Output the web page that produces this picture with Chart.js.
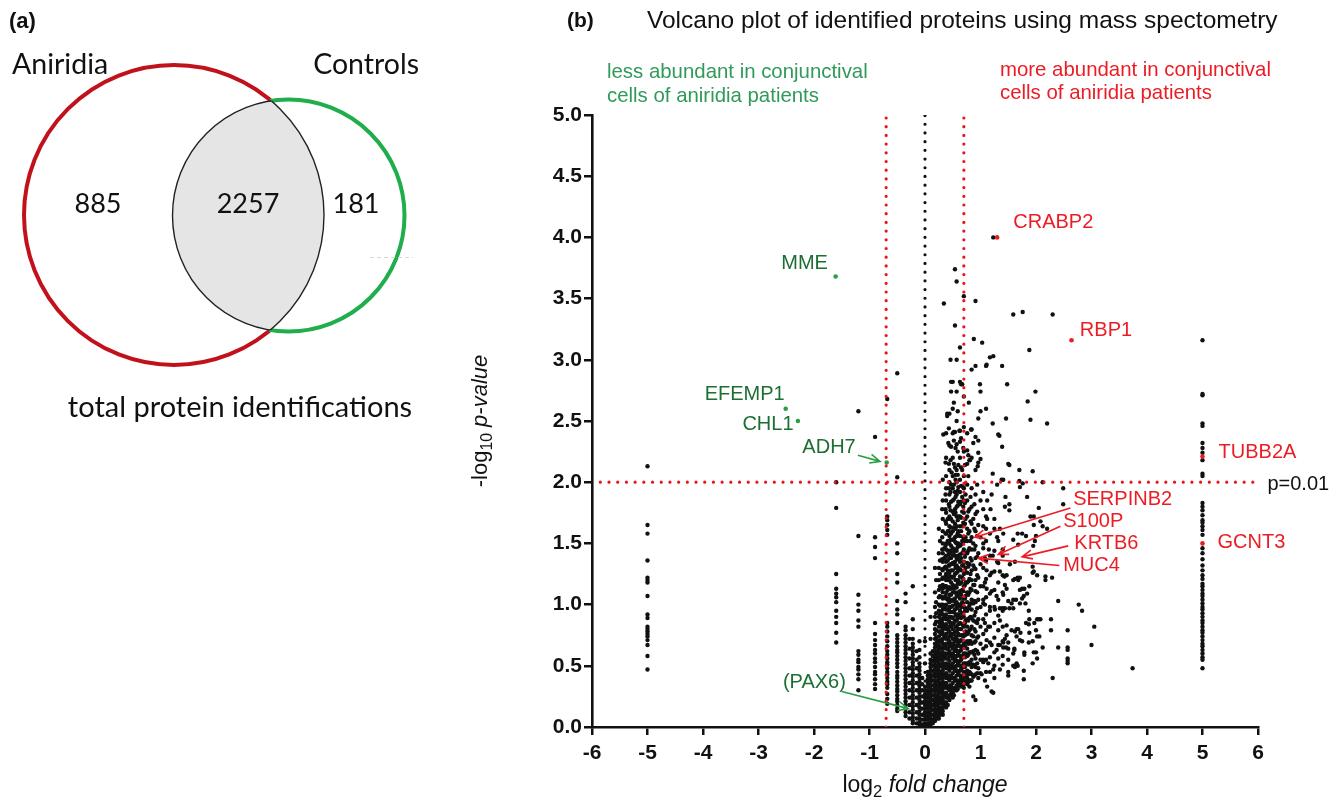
<!DOCTYPE html>
<html>
<head>
<meta charset="utf-8">
<script src="https://cdn.jsdelivr.net/npm/chart.js@4.4.1/dist/chart.umd.min.js"></script>
<style>
  html, body { margin: 0; padding: 0; background: #fff; }
  #wrap { width: 1340px; height: 802px; }
</style>
</head>
<body>
<div id="wrap"><canvas id="fig" width="1340" height="802"></canvas></div>
<script>
// ---- data ----
// Venn counts
const vennLabels = ['Aniridia', 'Controls'];
const vennCounts = [885, 2257, 181];

// log2 fold change columns (ratios come out quantised) and their -log10 p values
const colX = [-5, -1.6, -1.2, -0.9, -0.68, -0.5, -0.35, -0.28, -0.22, -0.15, -0.1, -0.05, 0, 0.05, 0.1, 0.14, 0.18, 0.2, 0.22, 0.25, 0.27, 0.29, 0.31, 0.32, 0.35, 0.37, 0.38, 0.41, 0.43, 0.44, 0.46, 0.47, 0.5, 0.52, 0.54, 0.55, 0.57, 0.59, 0.6, 0.63, 0.65, 0.67, 0.69, 0.7, 0.72, 0.73, 0.76, 0.78, 0.8, 0.82, 0.84, 0.87, 0.89, 0.91, 0.94, 0.96, 1.0, 1.05, 1.1, 1.17, 1.25, 1.32, 1.4, 5];
const colY = [
  [2.13,1.65,1.58,1.36,1.22,1.20,1.18,1.07,0.92,0.89,0.82,0.80,0.78,0.76,0.74,0.71,0.67,0.58,0.47],
  [2.00,1.79,1.25,1.13,1.09,1.06,1.02,0.95,0.90,0.85,0.77,0.69],
  [2.58,1.56,1.08,1.00,0.95,0.87,0.82,0.62,0.59,0.55,0.53,0.49,0.47,0.43,0.39,0.30],
  [2.37,1.55,1.47,1.38,0.85,0.76,0.71,0.67,0.63,0.60,0.56,0.53,0.49,0.45,0.43,0.39,0.35,0.31],
  [2.68,1.72,1.69,1.65,1.61,1.57,0.85,0.82,0.78,0.74,0.70,0.66,0.62,0.59,0.56,0.53,0.51,0.48,0.45,0.43,0.40,0.37,0.35,0.32,0.27,0.23,0.19],
  [2.89,2.04,1.50,1.42,1.25,1.18,1.03,0.96,0.92,0.85,0.75,0.72,0.69,0.66,0.63,0.61,0.58,0.55,0.52,0.49,0.45,0.42,0.40,0.37,0.34,0.31,0.29,0.26,0.23,0.21,0.18,0.15,0.13],
  [1.09,1.02,0.82,0.79,0.75,0.72,0.69,0.66,0.63,0.60,0.57,0.54,0.51,0.48,0.45,0.42,0.39,0.36,0.33,0.30,0.27,0.24,0.21,0.18,0.15,0.12,0.09],
  [0.72,0.64,0.56,0.48,0.42,0.36,0.30,0.24,0.18,0.12,0.07],
  [1.15,0.88,0.80,0.72,0.68,0.65,0.62,0.59,0.56,0.53,0.50,0.47,0.44,0.41,0.38,0.35,0.32,0.29,0.26,0.23,0.20,0.17,0.14,0.11,0.08,0.05,0.03],
  [0.62,0.55,0.48,0.42,0.36,0.30,0.24,0.18,0.12,0.07,0.03],
  [0.70,0.63,0.57,0.52,0.49,0.46,0.43,0.40,0.37,0.34,0.31,0.28,0.25,0.22,0.19,0.16,0.13,0.10,0.07,0.04,0.02],
  [0.40,0.35,0.30,0.25,0.20,0.15,0.10,0.06,0.02],
  [0.70,0.52,0.33,0.30,0.27,0.24,0.21,0.18,0.15,0.12,0.09,0.06,0.03,0.01],
  [0.45,0.42,0.39,0.36,0.33,0.30,0.27,0.24,0.21,0.18,0.15,0.12,0.09,0.06,0.03,0.01],
  [0.90,0.72,0.60,0.55,0.52,0.49,0.46,0.43,0.40,0.37,0.34,0.31,0.28,0.25,0.22,0.19,0.16,0.13,0.10,0.07,0.04,0.02],
  [0.62,0.58,0.54,0.50,0.46,0.42,0.38,0.34,0.30,0.26,0.22,0.18,0.14,0.10,0.06,0.03],
  [1.30,1.10,0.98,0.90,0.84,0.80,0.76,0.72,0.68,0.65,0.62,0.59,0.56,0.53,0.50,0.47,0.44,0.41,0.38,0.35,0.32,0.29,0.26,0.23,0.20,0.17,0.14,0.11,0.08,0.05],
  [1.20,1.02,0.93,0.86,0.79,0.73,0.67,0.61,0.55,0.49,0.43,0.37,0.31,0.25,0.19,0.13,0.08],
  [0.70,0.66,0.62,0.58,0.54,0.50,0.46,0.42,0.38,0.34,0.30,0.26,0.22,0.18,0.14,0.10,0.07],
  [1.62,1.42,1.30,1.20,1.12,1.06,1.00,0.95,0.90,0.86,0.82,0.78,0.74,0.70,0.67,0.64,0.61,0.58,0.55,0.52,0.49,0.46,0.43,0.40,0.37,0.34,0.31,0.28,0.25,0.22,0.19,0.16,0.13,0.10,0.07],
  [1.52,1.36,1.25,1.15,1.07,0.99,0.92,0.85,0.78,0.71,0.64,0.57,0.50,0.43,0.36,0.29,0.22,0.15,0.10],
  [1.00,0.94,0.88,0.82,0.76,0.70,0.65,0.60,0.55,0.50,0.45,0.40,0.36,0.32,0.28,0.24,0.20,0.16,0.12],
  [1.78,1.55,1.45,1.37,1.29,1.21,1.13,1.06,0.99,0.92,0.85,0.78,0.71,0.64,0.57,0.50,0.43,0.36,0.29,0.22,0.15],
  [2.02,1.85,1.70,1.60,1.50,1.42,1.35,1.28,1.22,1.16,1.10,1.05,1.00,0.96,0.92,0.88,0.84,0.80,0.76,0.72,0.68,0.64,0.61,0.58,0.55,0.52,0.49,0.46,0.43,0.40,0.37,0.34,0.31,0.28,0.25,0.22,0.19,0.16,0.13,0.10],
  [1.46,1.38,1.30,1.22,1.14,1.06,0.98,0.90,0.82,0.74,0.66,0.58,0.50,0.42,0.34,0.26,0.18],
  [2.16,1.90,1.78,1.68,1.58,1.48,1.39,1.31,1.23,1.15,1.07,0.99,0.91,0.83,0.75,0.67,0.59,0.51,0.43,0.35,0.27,0.20],
  [2.40,2.20,2.05,1.95,1.85,1.75,1.66,1.58,1.50,1.45,1.40,1.35,1.30,1.25,1.20,1.15,1.10,1.05,1.00,0.96,0.92,0.88,0.84,0.80,0.76,0.72,0.68,0.64,0.60,0.56,0.52,0.48,0.44,0.40,0.36,0.32,0.28,0.24,0.20,0.16],
  [1.70,1.60,1.52,1.44,1.36,1.28,1.20,1.12,1.04,0.96,0.88,0.80,0.72,0.64,0.56,0.48,0.40,0.32,0.24,0.18],
  [2.44,2.15,1.95,1.82,1.70,1.60,1.50,1.41,1.32,1.23,1.14,1.05,0.96,0.87,0.78,0.69,0.60,0.51,0.42,0.33,0.25],
  [2.56,2.30,2.10,2.00,1.90,1.80,1.72,1.64,1.56,1.50,1.44,1.38,1.32,1.26,1.20,1.14,1.08,1.02,0.98,0.94,0.90,0.86,0.82,0.78,0.74,0.70,0.66,0.62,0.58,0.54,0.50,0.46,0.42,0.38,0.34,0.30,0.26,0.22],
  [2.18,1.92,1.77,1.63,1.53,1.43,1.33,1.23,1.13,1.03,0.94,0.85,0.76,0.67,0.58,0.49,0.40,0.31],
  [2.29,1.98,1.84,1.70,1.58,1.48,1.38,1.28,1.18,1.08,0.98,0.90,0.82,0.74,0.66,0.58,0.50,0.42,0.34,0.27],
  [2.82,2.60,2.40,2.20,2.05,1.95,1.85,1.76,1.68,1.60,1.53,1.46,1.40,1.34,1.28,1.22,1.16,1.10,1.04,0.99,0.94,0.89,0.84,0.80,0.76,0.72,0.68,0.64,0.60,0.56,0.52,0.48,0.44,0.40,0.36,0.32,0.28,0.24],
  [2.65,2.34,2.15,1.98,1.86,1.74,1.63,1.53,1.43,1.33,1.23,1.13,1.03,0.94,0.85,0.76,0.67,0.58,0.49,0.40,0.31,0.26],
  [3.74,3.28,2.41,2.12,1.92,1.78,1.66,1.55,1.45,1.35,1.25,1.15,1.05,0.96,0.87,0.78,0.70,0.62,0.54,0.46,0.38,0.30],
  [2.28,2.02,1.88,1.75,1.62,1.51,1.40,1.30,1.20,1.10,1.00,0.91,0.82,0.73,0.64,0.55,0.47,0.39,0.32],
  [3.64,3.00,2.74,2.50,2.31,2.10,2.00,1.90,1.80,1.72,1.64,1.56,1.50,1.44,1.38,1.32,1.26,1.20,1.14,1.08,1.02,0.97,0.92,0.87,0.82,0.78,0.74,0.70,0.66,0.62,0.58,0.54,0.50,0.46,0.42,0.38,0.34,0.30],
  [2.58,2.25,2.06,1.93,1.81,1.69,1.58,1.47,1.37,1.27,1.17,1.07,0.98,0.89,0.80,0.71,0.62,0.53,0.45,0.37,0.31],
  [1.96,1.84,1.72,1.60,1.50,1.40,1.30,1.20,1.10,1.00,0.92,0.84,0.76,0.68,0.60,0.52,0.44,0.36],
  [3.10,2.82,2.42,2.33,2.20,2.02,1.92,1.82,1.72,1.64,1.56,1.48,1.41,1.35,1.29,1.23,1.17,1.11,1.05,1.00,0.95,0.90,0.85,0.80,0.75,0.70,0.66,0.62,0.58,0.54,0.50,0.46,0.42,0.38,0.34],
  [2.36,2.12,1.97,1.84,1.71,1.60,1.49,1.38,1.28,1.18,1.08,0.98,0.89,0.80,0.71,0.63,0.55,0.47,0.40,0.33],
  [2.80,2.10,1.88,1.76,1.64,1.52,1.42,1.32,1.22,1.12,1.02,0.93,0.84,0.75,0.66,0.58,0.50,0.42,0.36],
  [2.28,1.96,1.80,1.67,1.55,1.43,1.32,1.21,1.11,1.01,0.92,0.83,0.74,0.65,0.57,0.49,0.41,0.35],
  [3.52,2.70,2.45,2.25,2.05,1.95,1.85,1.75,1.65,1.55,1.45,1.35,1.25,1.15,1.05,0.98,0.90,0.82,0.75,0.68,0.60,0.52,0.45,0.38,0.32],
  [2.14,1.83,1.66,1.52,1.39,1.27,1.16,1.05,0.95,0.85,0.75,0.66,0.57,0.49,0.41],
  [1.90,1.70,1.55,1.42,1.30,1.18,1.07,0.97,0.87,0.78,0.69,0.60,0.52,0.44,0.37],
  [2.40,2.26,2.15,1.98,1.85,1.72,1.62,1.52,1.42,1.34,1.26,1.18,1.10,1.02,0.95,0.88,0.82,0.76,0.70,0.64,0.58,0.52,0.46,0.40,0.35],
  [2.05,1.76,1.58,1.44,1.31,1.19,1.08,0.97,0.87,0.77,0.68,0.59,0.51,0.43,0.37],
  [2.18,1.78,1.60,1.46,1.33,1.21,1.10,0.99,0.89,0.79,0.70,0.61,0.53,0.45,0.38,0.33],
  [1.88,1.68,1.52,1.38,1.25,1.13,1.01,0.90,0.80,0.70,0.61,0.52,0.44,0.38],
  [2.92,2.43,2.20,1.95,1.80,1.66,1.55,1.45,1.36,1.28,1.20,1.12,1.04,0.96,0.89,0.82,0.75,0.68,0.61,0.55,0.49,0.43,0.38],
  [2.32,1.70,1.50,1.32,1.16,1.01,0.87,0.74,0.62,0.51,0.41,0.25],
  [1.82,1.62,1.45,1.30,1.16,1.03,0.91,0.80,0.69,0.59,0.50,0.42],
  [3.48,2.95,2.37,2.10,1.90,1.74,1.60,1.48,1.38,1.29,1.20,1.11,1.02,0.94,0.86,0.78,0.70,0.63,0.56,0.49,0.43,0.22],
  [1.98,1.76,1.56,1.39,1.24,1.10,0.97,0.85,0.73,0.62,0.52,0.44],
  [2.52,2.34,2.24,2.16,1.65,1.42,1.22,1.04,0.88,0.74,0.60,0.48,0.40],
  [2.74,2.58,2.19,1.85,1.55,1.33,1.15,0.98,0.82,0.68,0.55,0.44],
  [1.64,1.46,1.30,1.15,1.01,0.88,0.76,0.64,0.53],
  [1.72,1.52,1.36,1.21,1.06,0.92,0.79,0.66,0.55,0.45],
  [1.58,1.40,1.24,1.09,0.95,0.82,0.69,0.57,0.45],
  [1.62,1.44,1.27,1.12,0.98,0.85,0.73,0.61,0.50,0.40],
  [1.52,1.34,1.18,1.04,0.91,0.79,0.67,0.56],
  [1.40,1.24,1.10,0.95,0.82,0.70,0.58],
  [3.16,2.72,2.71,2.48,2.46,2.32,2.28,2.24,2.18,2.07,2.05,1.83,1.80,1.77,1.73,1.69,1.67,1.64,1.61,1.57,1.46,1.42,1.37,1.32,1.28,1.24,1.21,1.17,1.15,1.12,1.09,1.07,1.04,1.01,0.98,0.96,0.93,0.90,0.87,0.85,0.82,0.79,0.77,0.74,0.71,0.68,0.66,0.63,0.60,0.57,0.55,0.48]
];

// proteins off the column grid
const sparsePoints = [
  [1.23,4.00],[0.34,3.46],[1.59,3.37],[1.76,3.39],[2.30,3.37],[0.88,3.17],[1.03,3.14],[1.88,3.08],[1.17,3.02],[1.23,3.03],
  [0.46,3.00],[1.10,2.95],[1.39,2.95],[1.11,2.96],[0.47,2.82],[0.65,2.80],[0.99,2.80],[1.48,2.80],[1.99,2.74],[0.47,2.74],
  [1.85,2.66],[0.79,2.65],[1.10,2.60],[0.40,2.56],[0.40,2.54],[1.46,2.52],[1.90,2.51],[2.20,2.48],[1.22,2.48],[0.52,2.41],
  [0.62,2.42],[0.33,2.39],[0.42,2.32],[1.32,2.39],[1.34,2.38],[1.39,2.29],[0.83,2.43],[0.78,2.22],[0.81,2.18],[0.95,2.13],
  [1.50,2.15],[1.52,2.14],[1.70,2.10],[1.94,2.09],[1.22,2.07],[1.41,2.02],[0.48,2.08],[0.55,2.06],[0.60,2.14],[1.38,2.02],
  [1.70,2.01],[1.76,1.99],[1.71,1.96],[2.12,2.00],[2.49,1.95],[1.84,1.88],[2.49,1.82],[1.44,1.80],[1.52,1.82],[1.52,1.77],
  [2.05,1.79],[1.90,1.72],[1.96,1.72],[2.08,1.68],[2.12,1.64],[1.96,1.65],[1.67,1.58],[1.75,1.58],[1.82,1.56],[2.00,1.56],
  [1.98,1.52],[1.95,1.48],[2.20,1.62],[1.35,1.62],[1.41,1.58],[1.59,1.53],[1.68,1.49],[1.94,1.31],[1.62,1.35],[1.53,1.33],
  [1.96,1.27],[2.17,1.23],[2.29,1.22],[1.62,1.21],[1.68,1.20],[1.94,1.26],[2.02,1.24],[2.17,1.20],[2.40,1.03],[2.77,1.00],
  [2.83,0.95],[3.05,0.82],[3.00,0.67],[2.27,0.88],[2.27,0.79],[2.57,0.79],[2.40,0.65],[2.57,0.65],[2.57,0.63],[2.57,0.56],
  [2.57,0.54],[2.57,0.52],[2.12,0.65],[2.30,0.40],[3.74,0.48],[2.00,0.61],[1.96,0.61],[2.02,0.56],[1.94,0.52],[1.78,0.46],
  [1.78,0.39],[1.50,0.45],[1.50,0.42],[1.59,0.50],[1.67,0.50],[1.40,0.51],[1.50,0.55],[1.61,0.63],[1.79,0.61],[1.79,0.59],
  [2.06,0.74],[2.02,0.74],[1.94,0.70],[1.87,0.69],[2.00,0.79],[2.08,0.88],[2.05,0.88],[2.02,0.88],[1.97,0.85],[1.87,0.84],
  [1.82,0.85],[1.88,0.88],[1.87,0.95],[1.81,1.01],[1.75,1.05],[1.78,1.07],[1.84,1.09],[1.88,1.15],[1.79,1.13],[1.75,1.13],
  [1.71,1.12],[1.67,1.22],[1.71,1.22],[1.59,1.20],[1.44,1.16],[1.47,1.13],[1.43,1.23],[1.59,1.04],[1.64,1.04],[1.56,1.01],
  [1.71,1.01],[1.35,0.97],[1.40,0.97],[1.44,0.97],[1.52,0.97],[1.59,0.97],[1.62,0.78],[1.65,0.80],[1.68,0.80],[1.47,0.75],
  [1.44,0.72],[1.50,0.69],[1.41,0.69],[1.35,0.67],[1.46,0.65],[1.41,0.65],[1.61,0.64],[1.71,0.71],[1.72,0.77],[1.88,0.77],
  [1.75,0.70],[1.11,1.28],[1.20,1.26],[1.35,1.27],[1.47,1.24],[1.08,1.18],[1.11,1.13],[1.20,1.11],[1.29,1.07],[1.41,1.08],
  [1.50,1.03],[1.05,1.04],[1.08,1.00],[1.17,0.98],[1.26,0.96],[1.08,0.85],[1.14,0.82],[1.35,0.87],[1.47,0.83],[1.56,0.79],
  [1.65,0.74],[1.11,0.71],[1.20,0.67],[1.29,0.63],[1.50,0.64],[1.59,0.60],[1.65,0.52],[1.05,0.55],[1.14,0.52],[1.23,0.47],
  [1.02,0.43],[1.08,0.38],[1.20,0.29],[1.23,0.28],[1.12,0.33],[1.62,0.49],[1.35,0.47],[1.05,1.92],[1.12,1.85],[1.18,1.78],
  [1.25,1.70],[1.10,1.62],[1.30,1.55],[1.05,1.50],[1.15,1.45],[1.22,1.40],[1.30,1.35],[1.08,1.38],[1.40,1.45],[1.20,1.90],
  [1.30,1.98],[1.12,1.70],[1.45,1.88],[1.05,1.78]
];

// named proteins
const downNames = ['MME', 'EFEMP1', 'CHL1', 'ADH7'];
const downX = [-1.61, -2.51, -2.29, -0.69];
const downY = [3.68, 2.60, 2.50, 2.16];
const upNames = ['CRABP2', 'RBP1', 'TUBB2A', 'GCNT3'];
const upX = [1.30, 2.64, 5, 5];
const upY = [4.00, 3.16, 2.21, 1.50];

// thresholds
const fcCut = 0.7;
const pCut = 2;   // p = 0.01

// ---- styles ----
const ARIAL = '"Liberation Sans", Arial, sans-serif';
const CALIBRI = 'Lato, "Open Sans", sans-serif';
const RED = '#ec1c24';
const LINE_RED = '#e8141c';
const DARK_GREEN = '#1c6e33';
const LIGHT_GREEN = '#2f9a5a';
const ARROW_GREEN = '#2aa043';

const blackPts = colX.flatMap((x, i) => colY[i].map(y => ({ x, y })))
  .concat(sparsePoints.map(p => ({ x: p[0], y: p[1] })));

function dotted(color, data) {
  return {
    type: 'line', data, borderColor: color, borderWidth: 3.2,
    borderDash: [0, 8.7], borderCapStyle: 'round', pointRadius: 0,
    fill: false, tension: 0, order: 0
  };
}

// labels and arrows, anchored in data units
const labels = [
  { text: 'MME', x: -2.59, y: 3.79, color: DARK_GREEN },
  { text: 'EFEMP1', x: -3.97, y: 2.72, color: DARK_GREEN },
  { text: 'CHL1', x: -3.29, y: 2.47, color: DARK_GREEN },
  { text: 'ADH7', x: -2.21, y: 2.28, color: DARK_GREEN },
  { text: '(PAX6)', x: -2.56, y: 0.36, color: DARK_GREEN },
  { text: 'CRABP2', x: 1.59, y: 4.12, color: RED },
  { text: 'RBP1', x: 2.79, y: 3.24, color: RED },
  { text: 'TUBB2A', x: 5.29, y: 2.24, color: RED },
  { text: 'p=0.01', x: 6.17, y: 1.98, color: '#111' },
  { text: 'SERPINB2', x: 2.67, y: 1.86, color: RED },
  { text: 'S100P', x: 2.49, y: 1.68, color: RED },
  { text: 'KRTB6', x: 2.69, y: 1.50, color: RED },
  { text: 'MUC4', x: 2.49, y: 1.32, color: RED },
  { text: 'GCNT3', x: 5.27, y: 1.51, color: RED }
];
const arrows = [
  { from: [-1.21, 2.22], to: [-0.81, 2.17], color: ARROW_GREEN },
  { from: [-1.50, 0.29], to: [-0.30, 0.15], color: ARROW_GREEN },
  { from: [2.62, 1.79], to: [0.90, 1.55], color: RED },
  { from: [2.44, 1.64], to: [1.32, 1.41], color: RED },
  { from: [2.58, 1.48], to: [1.75, 1.39], color: RED },
  { from: [2.42, 1.32], to: [0.96, 1.38], color: RED }
];

function drawVenn(ctx) {
  const A = { x: 174, y: 215, r: 150 };
  const B = { x: 288.5, y: 215.5, r: 116 };
  const circ = c => { ctx.beginPath(); ctx.arc(c.x, c.y, c.r, 0, Math.PI * 2); };
  const outside = c => {
    ctx.beginPath(); ctx.rect(0, 0, 460, 440);
    ctx.arc(c.x, c.y, c.r, 0, Math.PI * 2, true); ctx.clip('evenodd');
  };
  ctx.save();
  circ(A); ctx.clip(); circ(B); ctx.fillStyle = '#e5e5e5'; ctx.fill();
  ctx.restore();

  ctx.save(); outside(B); circ(A); ctx.lineWidth = 4; ctx.strokeStyle = '#c1121c'; ctx.stroke(); ctx.restore();
  ctx.save(); outside(A); circ(B); ctx.lineWidth = 4; ctx.strokeStyle = '#1fae4b'; ctx.stroke(); ctx.restore();
  ctx.save(); circ(A); ctx.clip(); circ(B); ctx.lineWidth = 1.4; ctx.strokeStyle = '#222'; ctx.stroke(); ctx.restore();
  ctx.save(); circ(B); ctx.clip(); circ(A); ctx.lineWidth = 1.4; ctx.strokeStyle = '#222'; ctx.stroke(); ctx.restore();

  // faint scan artefact
  ctx.save(); ctx.strokeStyle = '#d8d8d8'; ctx.lineWidth = 1; ctx.setLineDash([4, 3]);
  ctx.beginPath(); ctx.moveTo(370, 257.5); ctx.lineTo(413, 257.5); ctx.stroke(); ctx.restore();

  ctx.fillStyle = '#111';
  ctx.textBaseline = 'middle';
  ctx.font = 'bold 22px ' + ARIAL; ctx.textAlign = 'left';
  ctx.fillText('(a)', 9, 22);
  ctx.font = '28.5px ' + CALIBRI;
  ctx.fillText(vennLabels[0], 12, 65);
  ctx.textAlign = 'right';
  ctx.fillText(vennLabels[1], 419, 65);
  ctx.textAlign = 'center';
  ctx.font = '27px ' + CALIBRI;
  ctx.fillText(String(vennCounts[0]), 98, 204);
  ctx.fillText(String(vennCounts[1]), 248, 204);
  ctx.fillText(String(vennCounts[2]), 356, 204);
  ctx.font = '29px ' + CALIBRI;
  ctx.fillText('total protein identifications', 240, 408);
}

function arrow(ctx, x1, y1, x2, y2, color) {
  const a = Math.atan2(y2 - y1, x2 - x1), h = 11, s = 0.42;
  ctx.strokeStyle = color; ctx.lineWidth = 1.6;
  ctx.beginPath(); ctx.moveTo(x1, y1); ctx.lineTo(x2, y2);
  ctx.moveTo(x2 - h * Math.cos(a - s), y2 - h * Math.sin(a - s));
  ctx.lineTo(x2, y2);
  ctx.lineTo(x2 - h * Math.cos(a + s), y2 - h * Math.sin(a + s));
  ctx.stroke();
}

// rich text runs: [text, italic, sub]
function runs(ctx, parts, x, y, size) {
  let cx = x;
  parts.forEach(p => {
    const fs = p[2] ? size * 0.72 : size;
    ctx.font = (p[1] ? 'italic ' : '') + fs + 'px ' + ARIAL;
    ctx.fillText(p[0], cx, y + (p[2] ? size * 0.3 : 0));
    cx += ctx.measureText(p[0]).width;
  });
  return cx - x;
}
function runsWidth(ctx, parts, size) {
  let w = 0;
  parts.forEach(p => {
    const fs = p[2] ? size * 0.72 : size;
    ctx.font = (p[1] ? 'italic ' : '') + fs + 'px ' + ARIAL;
    w += ctx.measureText(p[0]).width;
  });
  return w;
}

const decor = {
  id: 'decor',
  beforeDraw(chart) {
    const ctx = chart.ctx;
    ctx.save();
    ctx.fillStyle = '#fff'; ctx.fillRect(0, 0, chart.width, chart.height);
    drawVenn(ctx);
    ctx.restore();
  },
  afterDraw(chart) {
    const ctx = chart.ctx, xs = chart.scales.x, ys = chart.scales.y;
    ctx.save();
    ctx.textBaseline = 'middle';
    ctx.textAlign = 'left';
    ctx.fillStyle = '#111';
    ctx.font = 'bold 21px ' + ARIAL;
    ctx.fillText('(b)', 567, 21);
    ctx.font = '24.5px ' + ARIAL;
    ctx.fillText('Volcano plot of identified proteins using mass spectometry', 647, 21);

    ctx.font = '20.4px ' + ARIAL;
    ctx.fillStyle = LIGHT_GREEN;
    ctx.fillText('less abundant in conjunctival', 607, 72);
    ctx.fillText('cells of aniridia patients', 607, 96);
    ctx.fillStyle = RED;
    ctx.fillText('more abundant in conjunctival', 1000, 70);
    ctx.fillText('cells of aniridia patients', 1000, 93);

    arrows.forEach(a => arrow(ctx,
      xs.getPixelForValue(a.from[0]), ys.getPixelForValue(a.from[1]),
      xs.getPixelForValue(a.to[0]), ys.getPixelForValue(a.to[1]), a.color));

    ctx.font = '20px ' + ARIAL;
    labels.forEach(l => {
      ctx.fillStyle = l.color;
      ctx.fillText(l.text, xs.getPixelForValue(l.x), ys.getPixelForValue(l.y));
    });

    // axis titles
    ctx.fillStyle = '#111';
    const xt = [['log'], ['2', false, true], [' '], ['fold change', true]];
    const xw = runsWidth(ctx, xt, 23);
    runs(ctx, xt, (xs.left + xs.right) / 2 - xw / 2, 786, 23);

    const yt = [['-log'], ['10', false, true], [' '], ['p-value', true]];
    const yw = runsWidth(ctx, yt, 22);
    ctx.translate(481, (ys.top + ys.bottom) / 2);
    ctx.rotate(-Math.PI / 2);
    runs(ctx, yt, -yw / 2, 0, 22);
    ctx.restore();
  }
};

const axisCommon = {
  type: 'linear',
  grid: { display: true, drawOnChartArea: false, drawTicks: true, tickLength: 8, color: '#111', lineWidth: 2.5 },
  border: { display: true, color: '#111', width: 2.6 }
};

new Chart(document.getElementById('fig'), {
  type: 'scatter',
  data: {
    datasets: [
      dotted(LINE_RED, [{ x: -fcCut, y: 0 }, { x: -fcCut, y: 5 }]),
      dotted(LINE_RED, [{ x: fcCut, y: 0 }, { x: fcCut, y: 5 }]),
      dotted(LINE_RED, [{ x: -5.85, y: pCut }, { x: 5.92, y: pCut }]),
      dotted('#111', [{ x: 0, y: 0.02 }, { x: 0, y: 5 }]),
      {
        label: 'up', data: upX.map((x, i) => ({ x, y: upY[i] })),
        backgroundColor: RED, pointRadius: 2.3, borderWidth: 0, order: 1
      },
      {
        label: 'down', data: downX.map((x, i) => ({ x, y: downY[i] })),
        backgroundColor: ARROW_GREEN, pointRadius: 2.3, borderWidth: 0, order: 1
      },
      {
        label: 'proteins', data: blackPts,
        backgroundColor: '#111', pointRadius: 2.2, borderWidth: 0, order: 2
      }
    ]
  },
  options: {
    responsive: false,
    animation: false,
    events: [],
    layout: { padding: { left: 522, right: 82, top: 115, bottom: 0 } },
    plugins: { legend: { display: false }, tooltip: { enabled: false } },
    scales: {
      x: Object.assign({}, axisCommon, {
        min: -6, max: 6,
        ticks: { stepSize: 1, color: '#111', padding: 6, font: { family: ARIAL, size: 21, weight: 'bold' } },
        afterFit: s => { s.height = 75; }
      }),
      y: Object.assign({}, axisCommon, {
        min: 0, max: 5,
        ticks: { stepSize: 0.5, color: '#111', padding: 2, font: { family: ARIAL, size: 21, weight: 'bold' },
                 callback: v => v.toFixed(1) },
        afterFit: s => { s.width = 70; }
      })
    }
  },
  plugins: [decor]
});
</script>
</body>
</html>
